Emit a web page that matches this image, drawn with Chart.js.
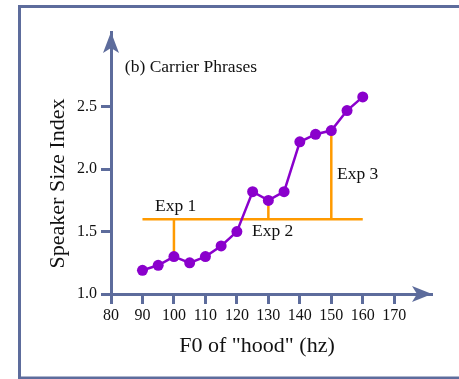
<!DOCTYPE html>
<html>
<head>
<meta charset="utf-8">
<script src="https://cdn.jsdelivr.net/npm/chart.js@4"></script>
<style>
  html, body { margin: 0; padding: 0; background: #fff; }
  canvas { display: block; }
</style>
</head>
<body>
<canvas id="grafico" width="459" height="379"></canvas>
<script>
// data
const f0 = [90, 95, 100, 105, 110, 115, 120, 125, 130, 135, 140, 145, 150, 155, 160]
const sizeIndex = [1.19, 1.23, 1.30, 1.25, 1.30, 1.385, 1.50, 1.82, 1.75, 1.82, 2.22, 2.28, 2.31, 2.47, 2.58]
const xTicks = [80, 90, 100, 110, 120, 130, 140, 150, 160, 170]
const yTicks = [1.0, 1.5, 2.0, 2.5]
const baseLevel = 1.6
const baseFrom = 90
const baseTo = 160
const expNames = ['Exp 1', 'Exp 2', 'Exp 3']
const expF0 = [100, 130, 150]

const axisColor = '#5d6c9c'
const purple = '#8a00cc'
const orange = '#ff9a00'
const serif = '"Liberation Serif", "DejaVu Serif", serif'

const pontos = f0.map((x, i) => ({ x: x, y: sizeIndex[i] }))

// vertical drops from the base line to the curve
const hastes = expF0.map(x => {
    const i = f0.indexOf(x)
    return {
        data: [{ x: x, y: baseLevel }, { x: x, y: sizeIndex[i] }],
        borderColor: orange,
        borderWidth: 2.5,
        pointRadius: 0,
        showLine: true
    }
})

// text placed in data space
const textos = [
    { t: '(b) Carrier Phrases', x: 84.4, y: 2.82 },
    { t: expNames[0], x: 94.0, y: 1.70 },
    { t: expNames[1], x: 124.8, y: 1.50 },
    { t: expNames[2], x: 151.8, y: 1.96 }
]

const moldura = {
    id: 'moldura',
    beforeDraw(chart) {
        const c = chart.ctx
        c.save()
        c.strokeStyle = axisColor
        c.lineWidth = 3
        c.strokeRect(19.5, 6.5, 460, 371.5)
        c.restore()
    },
    afterDraw(chart) {
        const c = chart.ctx
        const a = chart.chartArea
        const sx = chart.scales.x
        const sy = chart.scales.y
        c.save()
        c.fillStyle = axisColor
        // y arrow
        c.beginPath()
        c.moveTo(a.left, a.top)
        c.lineTo(a.left - 8, a.top + 21)
        c.lineTo(a.left, a.top + 16)
        c.lineTo(a.left + 8, a.top + 21)
        c.closePath()
        c.fill()
        // x arrow
        c.beginPath()
        c.moveTo(a.right, a.bottom)
        c.lineTo(a.right - 20, a.bottom - 8)
        c.lineTo(a.right - 15, a.bottom)
        c.lineTo(a.right - 20, a.bottom + 8)
        c.closePath()
        c.fill()

        c.fillStyle = '#111'
        c.font = '17.5px ' + serif
        c.textAlign = 'left'
        c.textBaseline = 'middle'
        textos.forEach(o => {
            c.fillText(o.t, sx.getPixelForValue(o.x), sy.getPixelForValue(o.y))
        })

        c.font = '22px ' + serif
        c.textAlign = 'center'
        c.textBaseline = 'alphabetic'
        c.fillText('F0 of "hood" (hz)', 257, 352)
        c.translate(64, 183.5)
        c.rotate(-Math.PI / 2)
        c.fillText('Speaker Size Index', 0, 0)
        c.restore()
    }
}

const ctx = document.getElementById('grafico')

const grafico = new Chart(ctx, {
    type: 'scatter',
    data: {
        datasets: [
            {
                data: pontos,
                showLine: true,
                borderColor: purple,
                backgroundColor: purple,
                borderWidth: 2.5,
                pointRadius: 5.5,
                pointBorderWidth: 0
            },
            {
                data: [{ x: baseFrom, y: baseLevel }, { x: baseTo, y: baseLevel }],
                borderColor: orange,
                borderWidth: 2.5,
                pointRadius: 0,
                showLine: true
            },
            ...hastes
        ]
    },
    options: {
        responsive: false,
        animation: false,
        devicePixelRatio: 1,
        layout: { padding: { left: 0, top: 32, right: 27, bottom: 0 } },
        plugins: { legend: { display: false }, tooltip: { enabled: false } },
        scales: {
            x: {
                type: 'linear',
                min: 80,
                max: 182,
                afterFit: s => { s.height = 85 },
                afterBuildTicks: s => { s.ticks = xTicks.map(v => ({ value: v })) },
                border: { display: true, color: axisColor, width: 3 },
                grid: { display: true, drawOnChartArea: false, drawTicks: true, tickLength: 10, tickColor: axisColor, tickWidth: 3, color: axisColor },
                ticks: { color: '#111', padding: 2, maxRotation: 0, font: { family: serif, size: 16 } }
            },
            y: {
                type: 'linear',
                min: 1.0,
                max: 3.1,
                afterFit: s => { s.width = 111 },
                afterBuildTicks: s => { s.ticks = yTicks.map(v => ({ value: v })) },
                border: { display: true, color: axisColor, width: 3 },
                grid: { display: true, drawOnChartArea: false, drawTicks: true, tickLength: 10, tickColor: axisColor, tickWidth: 3, color: axisColor },
                ticks: { color: '#111', padding: 4, font: { family: serif, size: 16 }, callback: v => v.toFixed(1) }
            }
        }
    },
    plugins: [moldura]
})
</script>
</body>
</html>
